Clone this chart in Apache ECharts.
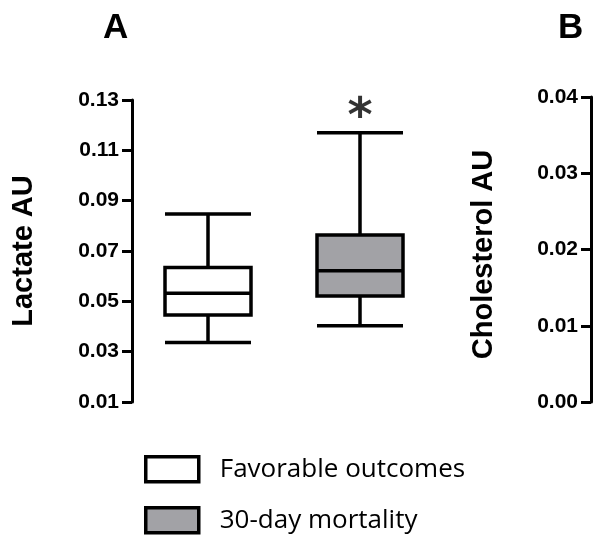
<!DOCTYPE html>
<html>
<head>
<meta charset="utf-8">
<script src="https://cdn.jsdelivr.net/npm/echarts@6/dist/echarts.min.js"></script>
<style>html,body{margin:0;padding:0;background:#fff;}#c{width:596px;height:535px;}</style>
</head>
<body>
<div id="c"></div>
<script>
// Data
var groups = ['Favorable outcomes', '30-day mortality'];
// [lower whisker, Q1, median, Q3, upper whisker]
var lactateFavorable = [0.0336, 0.0446, 0.0532, 0.0634, 0.0847];
var lactateMortality = [0.0403, 0.0521, 0.0622, 0.0764, 0.1170];
var groupColors = ['#ffffff', '#a2a2a6'];
var lactateTicks = {min: 0.01, max: 0.13, interval: 0.02};
var cholesterolTicks = {min: 0.00, max: 0.04, interval: 0.01};
var significance = [{group: 1, value: 0.1170, mark: '*'}];

var chart = echarts.init(document.getElementById('c'), null, {renderer: 'canvas'});

function yAxisBase(ticks, name, gap, grid, namePad) {
  return {
    type: 'value', gridIndex: grid,
    min: ticks.min, max: ticks.max, interval: ticks.interval,
    name: name, nameLocation: 'middle', nameRotate: 90, nameGap: gap,
    nameTextStyle: {fontSize: 29, fontWeight: 'bold', color: '#000', fontFamily: 'Liberation Sans', padding: namePad},
    axisLine: {show: true, lineStyle: {color: '#000', width: 3}},
    axisTick: {show: true, inside: false, length: 10, lineStyle: {color: '#000', width: 3}},
    axisLabel: {show: true, margin: 13, color: '#000', fontSize: 21, fontWeight: 'bold', fontFamily: 'Liberation Sans',
      formatter: function (v) { return v.toFixed(2); }},
    splitLine: {show: false}
  };
}

function legendFor(i, top) {
  return {
    orient: 'vertical', left: 139, top: top,
    itemWidth: 53, itemHeight: 25,
    icon: 'rect',
    itemStyle: {borderWidth: 3.5, borderColor: '#000'},
    textStyle: {fontSize: 26, color: '#000', fontFamily: 'Open Sans', padding: [0, 0, 0, 16]},
    data: [groups[i]]
  };
}

var option = {
  backgroundColor: '#fff',
  animation: false,
  title: [
    {text: 'A', left: 98, top: 6, textStyle: {fontSize: 35, fontWeight: 'bold', color: '#000', fontFamily: 'Liberation Sans'}},
    {text: 'B', left: 553, top: 6, textStyle: {fontSize: 35, fontWeight: 'bold', color: '#000', fontFamily: 'Liberation Sans'}}
  ],
  grid: [
    {left: 132, top: 100, width: 304, height: 302},
    {left: 591, top: 97, width: 60, height: 305}
  ],
  xAxis: [
    {type: 'category', gridIndex: 0, data: groups, show: false, boundaryGap: true},
    {type: 'category', gridIndex: 1, data: [''], show: false}
  ],
  yAxis: [
    yAxisBase(lactateTicks, 'Lactate AU', 94, 0, [0, 0, 0, 0]),
    yAxisBase(cholesterolTicks, 'Cholesterol AU', 93, 1, [0, 10, 0, 0])
  ],
  legend: [legendFor(0, 450), legendFor(1, 501)],
  series: [
    {
      type: 'boxplot', xAxisIndex: 0, yAxisIndex: 0,
      boxWidth: [86, 86],
      itemStyle: {borderColor: '#000', borderWidth: 3.5},
      data: [
        {value: lactateFavorable, itemStyle: {color: groupColors[0], borderColor: '#000', borderWidth: 3.5}},
        {value: lactateMortality, itemStyle: {color: groupColors[1], borderColor: '#000', borderWidth: 3.5}}
      ]
    },
    {
      type: 'scatter', xAxisIndex: 0, yAxisIndex: 0,
      symbolSize: 1, itemStyle: {color: 'rgba(0,0,0,0)'},
      silent: true,
      label: {show: true, position: 'inside', offset: [0, -14], fontSize: 48, fontWeight: 'bold', color: '#000', fontFamily: 'DejaVu Sans',
        formatter: function (p) { return p.data.mark; }},
      data: significance.map(function (s) { return {value: [s.group, s.value], mark: s.mark}; })
    },
    {name: groups[0], type: 'bar', xAxisIndex: 0, yAxisIndex: 0, data: [],
      itemStyle: {color: groupColors[0], borderColor: '#000', borderWidth: 3.5}},
    {name: groups[1], type: 'bar', xAxisIndex: 0, yAxisIndex: 0, data: [],
      itemStyle: {color: groupColors[1], borderColor: '#000', borderWidth: 3.5}},
    {type: 'scatter', xAxisIndex: 1, yAxisIndex: 1, data: []}
  ]
};
chart.setOption(option);
</script>
</body>
</html>
